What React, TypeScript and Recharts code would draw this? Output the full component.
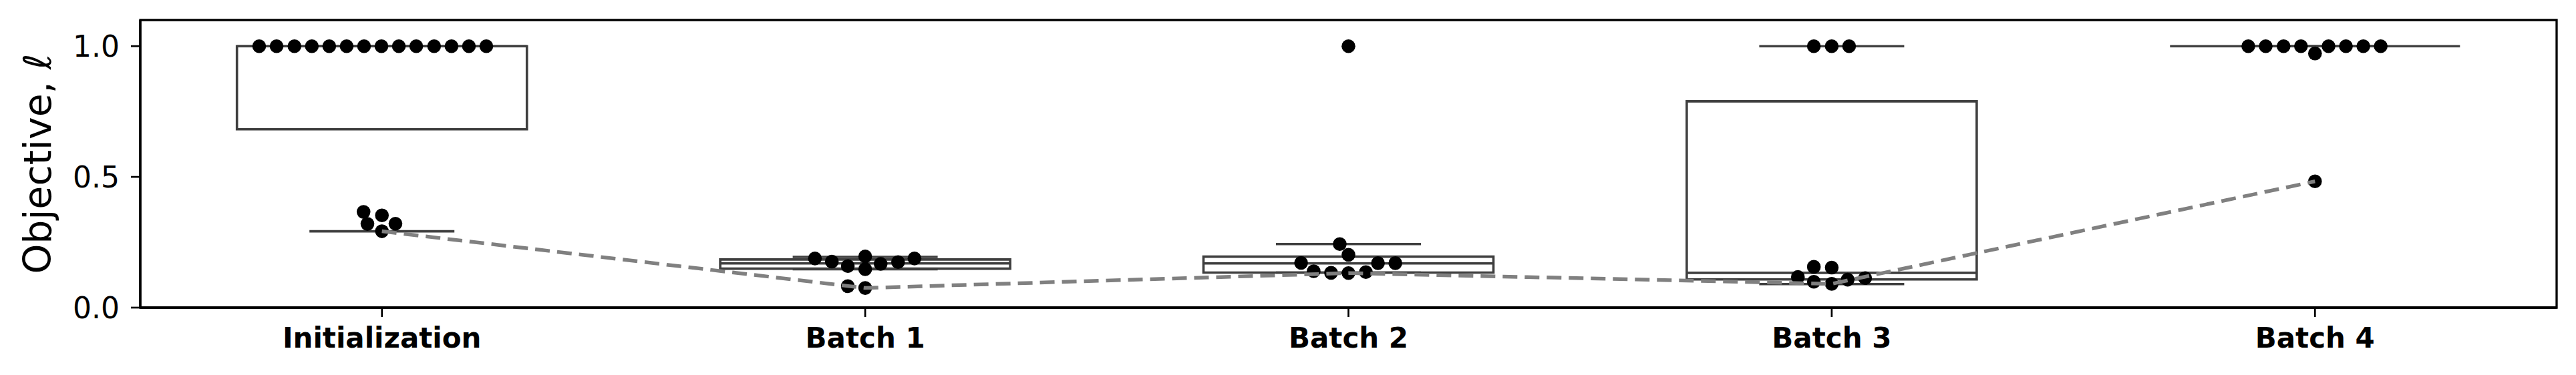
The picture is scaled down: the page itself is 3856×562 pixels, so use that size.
import React from 'react'
import {
  ComposedChart, Scatter, XAxis, YAxis, ReferenceArea, ReferenceLine, Label
} from 'recharts'

const categories = ['Initialization', 'Batch 1', 'Batch 2', 'Batch 3', 'Batch 4']

// box statistics per batch
const q1 = [0.682, 0.149, 0.134, 0.108, 1.0]
const medians = [1.0, 0.169, 0.169, 0.133, 1.0]
const q3 = [1.0, 0.184, 0.195, 0.789, 1.0]
const whiskerLow = [0.292, 0.147, 0.134, 0.090, 1.0]
const whiskerHigh = [1.0, 0.194, 0.243, 1.0, 1.0]

// best objective found per batch (dashed line)
const bestPerBatch = [0.292, 0.075, 0.132, 0.091, 0.483]

// individual evaluations, with swarm offsets
const initValues = [1.0, 1.0, 1.0, 1.0, 1.0, 1.0, 1.0, 1.0, 1.0, 1.0, 1.0, 1.0, 1.0, 1.0, 0.366, 0.353, 0.320, 0.321, 0.292]
const initOffsets = [-0.254, -0.218, -0.181, -0.145, -0.109, -0.073, -0.037, -0.001, 0.035, 0.071, 0.108, 0.144, 0.180, 0.216, -0.038, 0, -0.030, 0.028, 0]
const batch1Values = [0.188, 0.176, 0.159, 0.196, 0.147, 0.167, 0.174, 0.188, 0.082, 0.075]
const batch1Offsets = [-0.104, -0.069, -0.036, 0, 0, 0.032, 0.068, 0.102, -0.036, 0]
const batch2Values = [1.0, 0.243, 0.202, 0.171, 0.139, 0.133, 0.132, 0.136, 0.170, 0.170]
const batch2Offsets = [0, -0.018, 0, -0.098, -0.072, -0.036, 0, 0.036, 0.061, 0.097]
const batch3Values = [1.0, 1.0, 1.0, 0.156, 0.153, 0.117, 0.099, 0.091, 0.107, 0.113]
const batch3Offsets = [-0.037, 0, 0.036, -0.037, 0, -0.070, -0.037, 0, 0.033, 0.069]
const batch4Values = [1.0, 1.0, 1.0, 1.0, 1.0, 1.0, 1.0, 1.0, 0.972, 0.483]
const batch4Offsets = [-0.138, -0.102, -0.065, -0.029, 0.028, 0.064, 0.100, 0.136, 0, 0]

const allValues = [initValues, batch1Values, batch2Values, batch3Values, batch4Values]
const allOffsets = [initOffsets, batch1Offsets, batch2Offsets, batch3Offsets, batch4Offsets]

const points = allValues.flatMap((vals, i) =>
  vals.map((v, j) => ({ x: i + allOffsets[i][j], y: v }))
)
const bestLine = bestPerBatch.map((v, i) => ({ x: i, y: v }))

const font = 'DejaVu Sans'
const boxColor = '#3f3f3f'
const boxHalf = 0.3
const capHalf = 0.15
const lw = 3.6

const Dot = (p: any) => <circle cx={p.cx} cy={p.cy} r={10.3} fill="#000" />
const NoDot = () => <g />

const YLabel = (props: any) => {
  const vb = props.viewBox || { x: 0, y: 30, width: 210, height: 431 }
  const cx = 56
  const cy = vb.y + vb.height / 2
  return (
    <text
      x={cx}
      y={cy}
      transform={`rotate(-90, ${cx}, ${cy})`}
      textAnchor="middle"
      dominantBaseline="central"
      fontFamily={font}
      fontSize={57}
      fill="#000"
    >
      Objective, <tspan fontStyle="italic">ℓ</tspan>
    </text>
  )
}

export default function App() {
  return (
    <div style={{ position: 'absolute', left: 0, top: 0, background: '#fff' }}>
      <ComposedChart
        width={3856}
        height={562}
        margin={{ top: 30, right: 29, left: 0, bottom: 0 }}
      >
        <XAxis
          type="number"
          dataKey="x"
          domain={[-0.5, 4.5]}
          ticks={[0, 1, 2, 3, 4]}
          allowDataOverflow
          tickFormatter={(i: number) => categories[i]}
          height={101}
          tickSize={14}
          tickMargin={16}
          axisLine={{ stroke: '#000', strokeWidth: 3.3 }}
          tickLine={{ stroke: '#000', strokeWidth: 2.7 }}
          tick={{ fontFamily: font, fontSize: 42, fontWeight: 'bold', fill: '#000' }}
        />
        <YAxis
          type="number"
          dataKey="y"
          domain={[0, 1.1]}
          ticks={[0, 0.5, 1.0]}
          allowDataOverflow
          tickFormatter={(v: number) => v.toFixed(1)}
          width={210}
          tickSize={14}
          tickMargin={17}
          axisLine={{ stroke: '#000', strokeWidth: 3.3 }}
          tickLine={{ stroke: '#000', strokeWidth: 2.7 }}
          tick={{ fontFamily: font, fontSize: 44, fill: '#000' }}
        >
          <Label content={YLabel} />
        </YAxis>

        <ReferenceArea
          x1={-0.5} x2={4.5} y1={0} y2={1.1}
          fill="none" stroke="#000" strokeWidth={3.3}
        />

        {categories.map((_, i) => (
          <ReferenceArea
            key={'box' + i}
            x1={i - boxHalf} x2={i + boxHalf} y1={q1[i]} y2={q3[i]}
            fill="none" fillOpacity={0} stroke={boxColor} strokeWidth={lw}
          />
        ))}
        {categories.map((_, i) => (
          <ReferenceLine
            key={'med' + i}
            segment={[{ x: i - boxHalf, y: medians[i] }, { x: i + boxHalf, y: medians[i] }]}
            stroke={boxColor} strokeWidth={lw}
          />
        ))}
        {categories.map((_, i) => (
          <ReferenceLine
            key={'capl' + i}
            segment={[{ x: i - capHalf, y: whiskerLow[i] }, { x: i + capHalf, y: whiskerLow[i] }]}
            stroke={boxColor} strokeWidth={lw}
          />
        ))}
        {categories.map((_, i) => (
          <ReferenceLine
            key={'caph' + i}
            segment={[{ x: i - capHalf, y: whiskerHigh[i] }, { x: i + capHalf, y: whiskerHigh[i] }]}
            stroke={boxColor} strokeWidth={lw}
          />
        ))}

        <Scatter data={points} shape={Dot} isAnimationActive={false} />
        <Scatter
          data={bestLine}
          shape={NoDot}
          line={{ stroke: '#808080', strokeWidth: 5.5, strokeDasharray: '22 11' }}
          isAnimationActive={false}
        />
      </ComposedChart>
    </div>
  )
}
